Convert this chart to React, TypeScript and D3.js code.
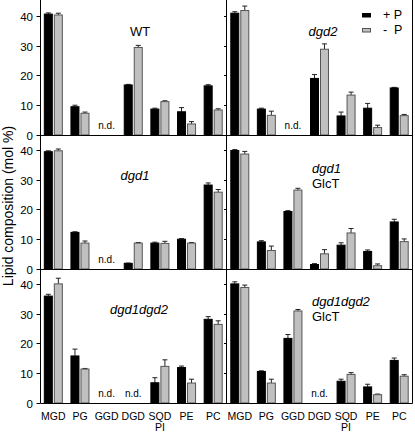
import React from "react";
import * as d3 from "d3";

// ---- data ----
const categories = ["MGD", "PG", "GGD", "DGD", "SQD", "PE", "PC"];
const categorySubLabels = ["", "", "", "", "PI", "", ""];
const yTicks = [0, 10, 20, 30, 40];
const seriesNames = ["+ P", "- P"];

// WT
const wtPlus = [40.6, 9.5, null, 16.8, 8.7, 7.8, 16.5];
const wtPlusErr = [0.4, 0.5, null, 0.2, 0.3, 1.4, 0.4];
const wtMinus = [40.3, 7.3, null, 29.4, 11.2, 3.7, 8.4];
const wtMinusErr = [0.6, 0.4, null, 0.7, 0.3, 0.8, 0.4];
// dgd2
const dgd2Plus = [40.9, 8.7, null, 19.0, 6.4, 9.0, 15.8];
const dgd2PlusErr = [0.5, 0.3, null, 1.3, 1.3, 1.6, 0.2];
const dgd2Minus = [41.8, 6.6, null, 28.8, 13.4, 2.5, 6.5];
const dgd2MinusErr = [1.5, 1.4, null, 1.8, 1.0, 0.8, 0.4];
// dgd1
const dgd1Plus = [39.4, 12.3, null, 1.9, 8.7, 10.0, 28.2];
const dgd1PlusErr = [0.3, 0.2, null, 0.1, 0.3, 0.2, 0.7];
const dgd1Minus = [39.7, 8.7, null, 8.7, 8.6, 8.7, 25.8];
const dgd1MinusErr = [0.6, 0.7, null, 0.2, 0.7, 0.2, 0.9];
// dgd1 GlcT
const dgd1GlcTPlus = [39.8, 9.1, 19.3, 1.5, 8.0, 5.9, 15.8];
const dgd1GlcTPlusErr = [0.3, 0.4, 0.3, 0.3, 0.8, 0.5, 0.9];
const dgd1GlcTMinus = [38.6, 6.2, 26.5, 5.1, 12.1, 1.1, 9.2];
const dgd1GlcTMinusErr = [0.9, 1.5, 0.6, 1.4, 1.5, 0.6, 0.9];
// dgd1dgd2
const dgd12Plus = [35.9, 15.8, null, null, 6.8, 11.9, 28.1];
const dgd12PlusErr = [0.6, 2.3, null, null, 1.7, 0.5, 0.9];
const dgd12Minus = [40.0, 11.4, null, null, 12.3, 6.7, 26.4];
const dgd12MinusErr = [1.9, 0.2, null, null, 2.2, 1.3, 1.2];
// dgd1dgd2 GlcT
const dgd12GlcTPlus = [40.0, 10.6, 21.7, null, 7.3, 5.4, 14.3];
const dgd12GlcTPlusErr = [0.7, 0.2, 1.3, null, 0.7, 0.9, 0.8];
const dgd12GlcTMinus = [38.8, 6.7, 30.9, null, 9.6, 2.8, 9.0];
const dgd12GlcTMinusErr = [0.8, 1.3, 0.5, null, 0.6, 0.2, 0.5];

const panelTitles = [
  [{ t: "WT", i: false }],
  [{ t: "dgd2", i: true }],
  [{ t: "dgd1", i: true }],
  [{ t: "dgd1", i: true }, { t: "GlcT", i: false }],
  [{ t: "dgd1dgd2", i: true }],
  [{ t: "dgd1dgd2", i: true }, { t: "GlcT", i: false }],
];

const panels = [
  { plus: wtPlus, plusErr: wtPlusErr, minus: wtMinus, minusErr: wtMinusErr },
  { plus: dgd2Plus, plusErr: dgd2PlusErr, minus: dgd2Minus, minusErr: dgd2MinusErr },
  { plus: dgd1Plus, plusErr: dgd1PlusErr, minus: dgd1Minus, minusErr: dgd1MinusErr },
  { plus: dgd1GlcTPlus, plusErr: dgd1GlcTPlusErr, minus: dgd1GlcTMinus, minusErr: dgd1GlcTMinusErr },
  { plus: dgd12Plus, plusErr: dgd12PlusErr, minus: dgd12Minus, minusErr: dgd12MinusErr },
  { plus: dgd12GlcTPlus, plusErr: dgd12GlcTPlusErr, minus: dgd12GlcTMinus, minusErr: dgd12GlcTMinusErr },
];

// ---- layout (not data) ----
const W = 415;
const H = 433;
const colEdges = [40, 226.5, 412.5];
const rowTops = [1, 135, 269];
const rowH = 134;
const titlePos = [
  { x: 140, y: 36, anchor: "middle" },
  { x: 323, y: 36, anchor: "middle" },
  { x: 135, y: 180, anchor: "middle" },
  { x: 312, y: 173, anchor: "start" },
  { x: 139, y: 314, anchor: "middle" },
  { x: 312, y: 306, anchor: "start" },
];
const FONT = "'Liberation Sans', Arial, Helvetica, sans-serif";
const BLACK = "#000";
const GRAY = "#c0c0c0";
const GRAY_STROKE = "#555";

export default function App() {
  const sub = d3.scaleBand().domain(seriesNames).paddingInner(0.1).paddingOuter(0.38);

  const elems: React.ReactNode[] = [];

  panels.forEach((p, pi) => {
    const col = pi % 2;
    const row = Math.floor(pi / 2);
    const x = d3.scaleBand().domain(categories).range([colEdges[col], colEdges[col + 1]]);
    const y = d3.scaleLinear().domain([0, 45]).range([rowTops[row] + rowH, rowTops[row]]);
    sub.range([0, x.bandwidth()]);
    const bw = sub.bandwidth();
    const series = [
      { name: seriesNames[0], vals: p.plus, errs: p.plusErr, fill: BLACK, stroke: BLACK },
      { name: seriesNames[1], vals: p.minus, errs: p.minusErr, fill: GRAY, stroke: GRAY_STROKE },
    ];
    categories.forEach((c, ci) => {
      const bx = x(c)!;
      if (p.plus[ci] == null && p.minus[ci] == null) {
        elems.push(
          <text key={`nd-${pi}-${ci}`} x={bx + x.bandwidth() / 2} y={y(0) - 6} textAnchor="middle"
            fontFamily={FONT} fontSize={10} fill="#000">n.d.</text>
        );
        return;
      }
      series.forEach((s) => {
        const v = s.vals[ci];
        if (v == null) return;
        const e = s.errs[ci] ?? 0;
        const x0 = bx + sub(s.name)!;
        const cx = x0 + bw / 2;
        elems.push(
          <line key={`e-${pi}-${ci}-${s.name}`} x1={cx} x2={cx} y1={y(v)} y2={y(v + e)} stroke="#222" strokeWidth={1} />,
          <line key={`ec-${pi}-${ci}-${s.name}`} x1={cx - 2.5} x2={cx + 2.5} y1={y(v + e)} y2={y(v + e)} stroke="#222" strokeWidth={1} />,
          <rect key={`b-${pi}-${ci}-${s.name}`} x={x0 + 0.5} y={y(v)} width={bw - 1} height={y(0) - y(v)}
            fill={s.fill} stroke={s.stroke} strokeWidth={1} />
        );
      });
    });
    // titles
    const tp = titlePos[pi];
    panelTitles[pi].forEach((t, li) => {
      elems.push(
        <text key={`t-${pi}-${li}`} x={tp.x} y={tp.y + li * 15} textAnchor={tp.anchor as any}
          fontFamily={FONT} fontSize={13} fontStyle={t.i ? "italic" : "normal"} fill="#000">{t.t}</text>
      );
    });
    // y ticks
    yTicks.forEach((t) => {
      const yy = Math.round(y(t)) + 0.5;
      if (col === 0) {
        elems.push(
          <line key={`yt-${pi}-${t}`} x1={36.5} x2={colEdges[0]} y1={yy} y2={yy} stroke="#000" />,
          <text key={`ytl-${pi}-${t}`} x={33} y={yy + 4} textAnchor="end" fontFamily={FONT} fontSize={11.5} fill="#000">{t}</text>
        );
      } else {
        elems.push(
          <line key={`yt-${pi}-${t}`} x1={colEdges[1] - 2.5} x2={colEdges[1]} y1={yy} y2={yy} stroke="#000" />
        );
      }
    });
    // x labels on bottom row
    if (row === 2) {
      categories.forEach((c, ci) => {
        const cx = x(c)! + x.bandwidth() / 2;
        elems.push(
          <text key={`xl-${pi}-${ci}`} x={cx} y={420} textAnchor="middle" fontFamily={FONT} fontSize={10.5} fill="#000">{c}</text>
        );
        if (categorySubLabels[ci]) {
          elems.push(
            <text key={`xl2-${pi}-${ci}`} x={cx} y={431} textAnchor="middle" fontFamily={FONT} fontSize={10.5} fill="#000">{categorySubLabels[ci]}</text>
          );
        }
      });
    }
  });

  // frame lines
  const frame: React.ReactNode[] = [];
  const bottom = rowTops[2] + rowH;
  frame.push(<line key="fl" x1={40.5} x2={40.5} y1={0} y2={bottom + 0.5} stroke="#000" />);
  frame.push(<line key="fm" x1={226.5} x2={226.5} y1={0} y2={bottom + 0.5} stroke="#000" />);
  frame.push(<line key="fr" x1={412.5} x2={412.5} y1={0} y2={bottom + 0.5} stroke="#000" />);
  rowTops.forEach((rt, i) => {
    const yy = Math.round(rt + rowH) + 0.5;
    frame.push(<line key={`fh-${i}`} x1={40.5} x2={412.5} y1={yy} y2={yy} stroke="#000" />);
  });

  // legend
  const legend = (
    <g>
      <rect x={362.5} y={13.5} width={8} height={3.5} fill={BLACK} stroke={BLACK} />
      <text x={383} y={19} fontFamily={FONT} fontSize={12.5} fill="#000">+ P</text>
      <rect x={362.5} y={28.5} width={8} height={3.5} fill={GRAY} stroke={GRAY_STROKE} />
      <text x={383} y={34} fontFamily={FONT} fontSize={12.5} fill="#000" xmlSpace="preserve">-  P</text>
    </g>
  );

  return (
    <svg width={W} height={H} style={{ position: "absolute", left: 0, top: 0, background: "#fff" }}>
      <rect x={0} y={0} width={W} height={H} fill="#fff" />
      {elems}
      {frame}
      {legend}
      <text transform={`translate(13,206) rotate(-90)`} textAnchor="middle" fontFamily={FONT} fontSize={14} fill="#000">
        Lipid composition (mol %)
      </text>
    </svg>
  );
}
